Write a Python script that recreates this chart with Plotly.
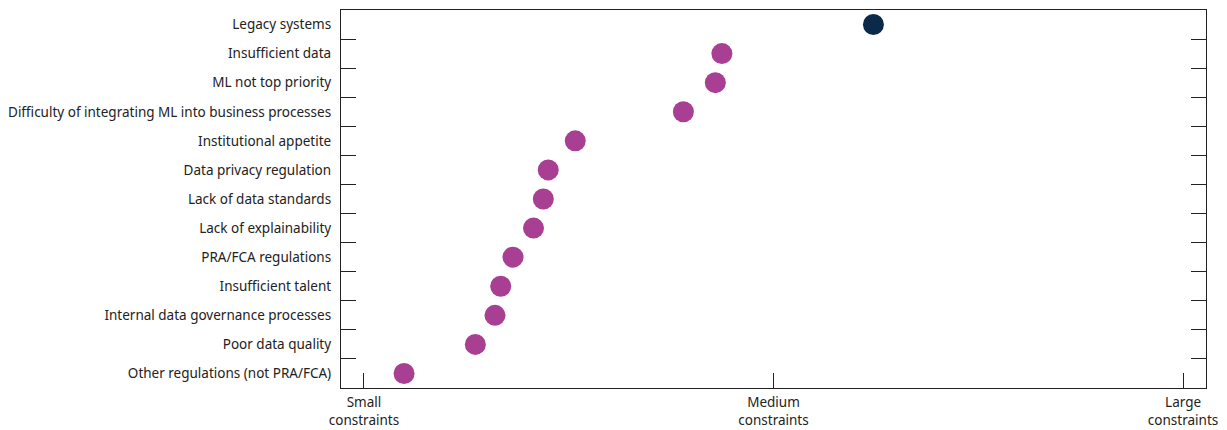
import plotly.graph_objects as go

categories = [
    "Legacy systems",
    "Insufficient data",
    "ML not top priority",
    "Difficulty of integrating ML into business processes",
    "Institutional appetite",
    "Data privacy regulation",
    "Lack of data standards",
    "Lack of explainability",
    "PRA/FCA regulations",
    "Insufficient talent",
    "Internal data governance processes",
    "Poor data quality",
    "Other regulations (not PRA/FCA)",
]
values = [6.22, 4.37, 4.29, 3.90, 2.58, 2.25, 2.19, 2.07, 1.82, 1.67, 1.60, 1.36, 0.49]
highlight = [True] + [False] * 12
tick_vals = [0, 5, 10]
tick_text = ["Small<br>constraints", "Medium<br>constraints", "Large<br>constraints"]

colors = ["#0B2A4A" if h else "#A83F92" for h in highlight]

fig = go.Figure(go.Scatter(
    x=values, y=categories, mode="markers",
    marker=dict(size=21, color=colors, line=dict(width=0)),
    hoverinfo="x+y",
))

fig.update_layout(
    width=1227, height=430,
    margin=dict(l=341, r=21, t=10, b=42),
    paper_bgcolor="white", plot_bgcolor="white",
    font=dict(family="Noto Sans", size=13.5, color="#222222"),
    showlegend=False,
)
fig.update_xaxes(
    range=[-0.28, 10.28], tickvals=tick_vals, ticktext=tick_text,
    ticks="inside", ticklen=15, tickcolor="#222222", tickwidth=1.3,
    showline=True, linecolor="#222222", linewidth=1.3, mirror=True,
    showgrid=False, zeroline=False, automargin=False,
    ticklabeloverflow="allow", ticklabelstandoff=2,
)
fig.update_yaxes(
    categoryorder="array", categoryarray=categories, range=[12.5, -0.5],
    tickson="boundaries", ticks="inside", ticklen=15, tickcolor="#222222", tickwidth=1.3,
    showline=True, linecolor="#222222", linewidth=1.3, mirror="ticks",
    showgrid=False, zeroline=False, ticklabelstandoff=6, automargin=False,
)
fig.write_html(
    "out.html",
    config={"displayModeBar": False},
    post_script="document.body.style.margin='0px';document.body.style.overflow='hidden';",
)
